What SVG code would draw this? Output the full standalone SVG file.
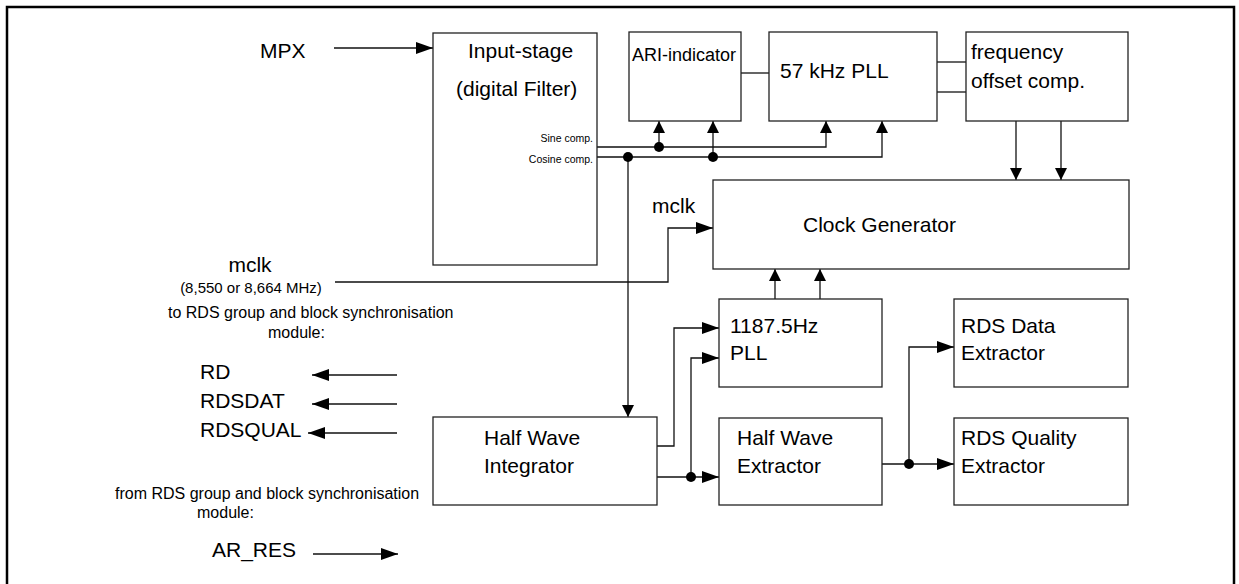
<svg xmlns="http://www.w3.org/2000/svg" width="1239" height="584" viewBox="0 0 1239 584">
<style>
.box{fill:#fff;stroke:#222;stroke-width:1.3}
.t{font-family:"Liberation Sans",Arial,Helvetica,sans-serif;font-size:21px;fill:#000}
.s{font-size:16px}
.xs{font-size:10.5px}
.m{font-size:15px}
.c{fill:none;stroke:#111;stroke-width:1.3}
.dot{fill:#000}
</style>
<defs>
<marker id="ah" viewBox="0 0 17 12" refX="17" refY="6" markerWidth="17" markerHeight="12" markerUnits="userSpaceOnUse" orient="auto"><path d="M0,0 L17,6 L0,12 z" fill="#000"/></marker>
<marker id="av" viewBox="0 0 12 12" refX="12" refY="6" markerWidth="12" markerHeight="12" markerUnits="userSpaceOnUse" orient="auto"><path d="M0,0 L12,6 L0,12 z" fill="#000"/></marker>
</defs>
<rect x="0" y="0" width="1239" height="584" fill="#fff"/>
<path d="M7,590 V7 H1234 V590" fill="none" stroke="#000" stroke-width="2.5"/>

<g id="connectors">
<path class="c" d="M334,48 H433" marker-end="url(#ah)"/>
<path class="c" d="M597,147 H826 V121" marker-end="url(#av)"/>
<path class="c" d="M597,157 H882 V121" marker-end="url(#av)"/>
<path class="c" d="M659,147 V121" marker-end="url(#av)"/>
<path class="c" d="M713,157 V121" marker-end="url(#av)"/>
<path class="c" d="M628,157 V417" marker-end="url(#av)"/>
<path class="c" d="M741,73 H769"/>
<path class="c" d="M937,62 H966"/>
<path class="c" d="M937,92 H966"/>
<path class="c" d="M1016,121 V180" marker-end="url(#av)"/>
<path class="c" d="M1061,121 V180" marker-end="url(#av)"/>
<path class="c" d="M335,282 H668 V228 H713" marker-end="url(#ah)"/>
<path class="c" d="M775,299 V269" marker-end="url(#av)"/>
<path class="c" d="M820,299 V269" marker-end="url(#av)"/>
<path class="c" d="M657,446 H674 V328 H719" marker-end="url(#ah)"/>
<path class="c" d="M657,477 H719" marker-end="url(#ah)"/>
<path class="c" d="M691,477 V358 H719" marker-end="url(#ah)"/>
<path class="c" d="M882,464 H954" marker-end="url(#ah)"/>
<path class="c" d="M909,464 V347 H954" marker-end="url(#ah)"/>
<path class="c" d="M397,375 H312" marker-end="url(#ah)"/>
<path class="c" d="M397,404 H312" marker-end="url(#ah)"/>
<path class="c" d="M397,433 H308" marker-end="url(#ah)"/>
<path class="c" d="M313,554 H398" marker-end="url(#ah)"/>
<circle class="dot" cx="628" cy="157" r="5"/>
<circle class="dot" cx="659" cy="147" r="5"/>
<circle class="dot" cx="713" cy="157" r="5"/>
<circle class="dot" cx="691" cy="477" r="5"/>
<circle class="dot" cx="909" cy="464" r="5"/>
</g>

<g id="input-stage">
<rect class="box" x="433" y="33" width="164" height="232"/>
<text class="t" x="468" y="58">Input-stage</text>
<text class="t" x="456" y="96">(digital Filter)</text>
<text class="t xs" x="593" y="142" text-anchor="end">Sine comp.</text>
<text class="t xs" x="593" y="163" text-anchor="end">Cosine comp.</text>
</g>
<g id="ari-indicator">
<rect class="box" x="629" y="32" width="112" height="89"/>
<text class="t" x="632" y="61" style="font-size:18px">ARI-indicator</text>
</g>
<g id="pll57">
<rect class="box" x="769" y="32" width="168" height="89"/>
<text class="t" x="780" y="78">57 kHz PLL</text>
</g>
<g id="freq-offset">
<rect class="box" x="966" y="32" width="162" height="89"/>
<text class="t" x="971" y="59">frequency</text>
<text class="t" x="971" y="88">offset comp.</text>
</g>
<g id="clock-generator">
<rect class="box" x="713" y="180" width="416" height="89"/>
<text class="t" x="803" y="232">Clock Generator</text>
</g>
<g id="pll1187">
<rect class="box" x="719" y="299" width="163" height="88"/>
<text class="t" x="730" y="333">1187.5Hz</text>
<text class="t" x="730" y="360">PLL</text>
</g>
<g id="rds-data">
<rect class="box" x="954" y="299" width="174" height="88"/>
<text class="t" x="961" y="333">RDS Data</text>
<text class="t" x="961" y="360">Extractor</text>
</g>
<g id="half-wave-integrator">
<rect class="box" x="433" y="417" width="224" height="88"/>
<text class="t" x="484" y="445">Half Wave</text>
<text class="t" x="484" y="473">Integrator</text>
</g>
<g id="half-wave-extractor">
<rect class="box" x="719" y="418" width="163" height="87"/>
<text class="t" x="737" y="445">Half Wave</text>
<text class="t" x="737" y="473">Extractor</text>
</g>
<g id="rds-quality">
<rect class="box" x="954" y="418" width="174" height="87"/>
<text class="t" x="961" y="445">RDS Quality</text>
<text class="t" x="961" y="473">Extractor</text>
</g>

<g id="labels">
<text class="t" x="260" y="58">MPX</text>
<text class="t" x="652" y="213">mclk</text>
<text class="t" x="250" y="272" text-anchor="middle">mclk</text>
<text class="t m" x="251" y="293" text-anchor="middle">(8,550 or 8,664 MHz)</text>
<text class="t s" x="168" y="318">to RDS group and block synchronisation</text>
<text class="t s" x="268" y="338">module:</text>
<text class="t" x="200" y="379">RD</text>
<text class="t" x="200" y="408">RDSDAT</text>
<text class="t" x="200" y="437">RDSQUAL</text>
<text class="t s" x="115" y="499">from RDS group and block synchronisation</text>
<text class="t s" x="197" y="518">module:</text>
<text class="t" x="212" y="557">AR_RES</text>
</g>
</svg>
